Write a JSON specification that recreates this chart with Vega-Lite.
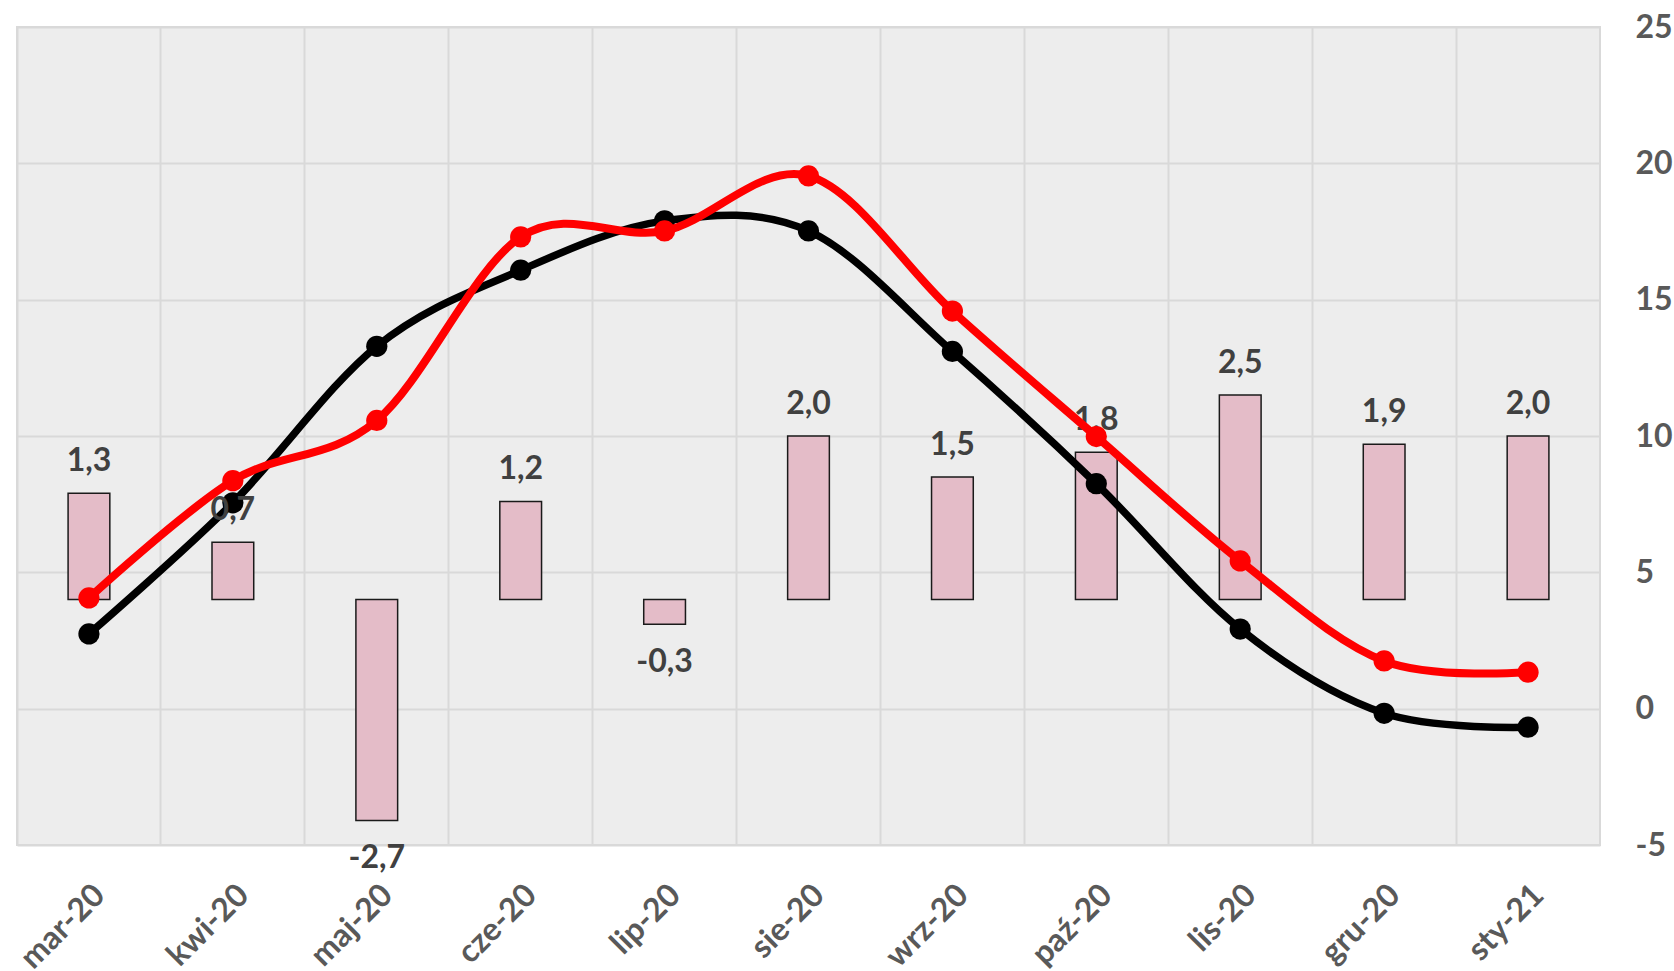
{
  "$schema": "https://vega.github.io/schema/vega-lite/v6.json",
  "width": 1583,
  "height": 818,
  "padding": {"left": 14, "top": 11, "right": 0, "bottom": 0},
  "autosize": {"type": "pad"},
  "background": "white",
  "config": {
    "locale": {"number": {"decimal": ",", "thousands": " ", "grouping": [3], "currency": ["", ""], "minus": "-"}},
    "view": {"fill": "#ededed", "stroke": "#d9d9d9", "strokeWidth": 2},
    "font": "Lato",
    "axis": {"labelFont": "Lato", "labelFontWeight": "bold", "labelFontSize": 32, "labelColor": "#595959", "gridColor": "#d9d9d9", "gridWidth": 2, "domain": false, "ticks": false, "title": null}
  },
  "data": {"values": [
    {"month": "mar-20", "bar": 1.3, "black": 2.74, "red": 4.06},
    {"month": "kwi-20", "bar": 0.7, "black": 7.55, "red": 8.36},
    {"month": "maj-20", "bar": -2.7, "black": 13.29, "red": 10.57},
    {"month": "cze-20", "bar": 1.2, "black": 16.08, "red": 17.3},
    {"month": "lip-20", "bar": -0.3, "black": 17.89, "red": 17.52},
    {"month": "sie-20", "bar": 2.0, "black": 17.52, "red": 19.54},
    {"month": "wrz-20", "bar": 1.5, "black": 13.1, "red": 14.58},
    {"month": "paź-20", "bar": 1.8, "black": 8.25, "red": 9.98},
    {"month": "lis-20", "bar": 2.5, "black": 2.92, "red": 5.42},
    {"month": "gru-20", "bar": 1.9, "black": -0.17, "red": 1.75},
    {"month": "sty-21", "bar": 2.0, "black": -0.68, "red": 1.34}
  ]},
  "resolve": {"scale": {"y": "independent"}, "axis": {"y": "independent"}},
  "layer": [
    {
      "mark": {"type": "bar", "width": {"band": 0.29}, "fill": "#e4bcc8", "stroke": "#1a1a1a", "strokeWidth": 1.5},
      "encoding": {
        "x": {"field": "month", "type": "nominal", "sort": null,
              "scale": {"paddingInner": 0, "paddingOuter": 0},
              "axis": {"bandPosition": 0, "grid": true, "labelOffset": 0, "labelAngle": -45, "labelPadding": 34}},
        "y": {"field": "bar", "type": "quantitative", "scale": {"domain": [-3, 7], "nice": false, "zero": true}, "axis": null}
      }
    },
    {
      "mark": {"type": "line", "color": "#000000", "strokeWidth": 7.5, "interpolate": "cardinal"},
      "encoding": {
        "x": {"field": "month", "type": "nominal", "sort": null},
        "y": {"field": "black", "type": "quantitative", "scale": {"domain": [-5, 25], "nice": false}, "axis": null}
      }
    },
    {
      "mark": {"type": "circle", "color": "#000000", "size": 450, "opacity": 1},
      "encoding": {
        "x": {"field": "month", "type": "nominal", "sort": null},
        "y": {"field": "black", "type": "quantitative", "scale": {"domain": [-5, 25], "nice": false}, "axis": null}
      }
    },
    {
      "transform": [{"filter": "datum.bar >= 0"}],
      "mark": {"type": "text", "font": "Lato", "fontWeight": "bold", "fontSize": 32, "color": "#404040", "baseline": "alphabetic", "dy": -22},
      "encoding": {
        "x": {"field": "month", "type": "nominal", "sort": null},
        "y": {"field": "bar", "type": "quantitative", "scale": {"domain": [-3, 7], "nice": false}, "axis": null},
        "text": {"field": "bar", "type": "quantitative", "format": ".1f"}
      }
    },
    {
      "transform": [{"filter": "datum.bar < 0"}],
      "mark": {"type": "text", "font": "Lato", "fontWeight": "bold", "fontSize": 32, "color": "#404040", "baseline": "alphabetic", "dy": 48},
      "encoding": {
        "x": {"field": "month", "type": "nominal", "sort": null},
        "y": {"field": "bar", "type": "quantitative", "scale": {"domain": [-3, 7], "nice": false}, "axis": null},
        "text": {"field": "bar", "type": "quantitative", "format": ".1f"}
      }
    },
    {
      "mark": {"type": "line", "color": "#ff0000", "strokeWidth": 8, "interpolate": "cardinal"},
      "encoding": {
        "x": {"field": "month", "type": "nominal", "sort": null},
        "y": {"field": "red", "type": "quantitative", "scale": {"domain": [-5, 25], "nice": false},
              "axis": {"orient": "right", "values": [-5, 0, 5, 10, 15, 20, 25], "grid": true, "labelPadding": 35, "labelAlign": "left"}}
      }
    },
    {
      "mark": {"type": "circle", "color": "#ff0000", "size": 450, "opacity": 1},
      "encoding": {
        "x": {"field": "month", "type": "nominal", "sort": null},
        "y": {"field": "red", "type": "quantitative", "scale": {"domain": [-5, 25], "nice": false}, "axis": null}
      }
    }
  ]
}
